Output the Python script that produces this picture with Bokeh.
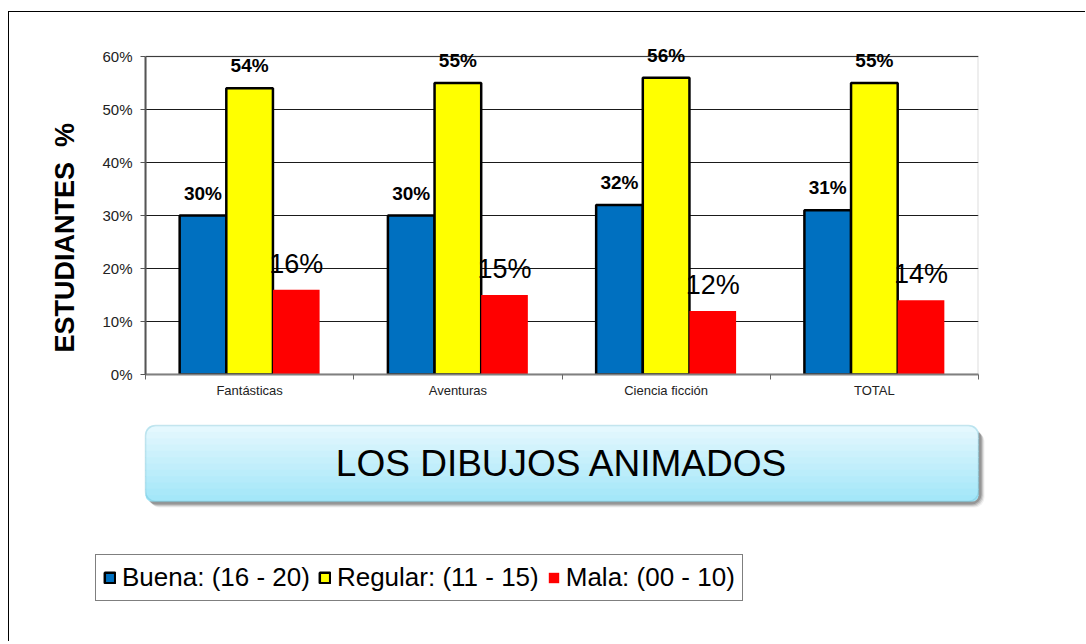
import numpy as np
from bokeh.plotting import figure
from bokeh.models import (ColumnDataSource, Range1d, FixedTicker, NumeralTickFormatter,
                          LabelSet, Label, Legend, LegendItem, BoxAnnotation, Title)
from bokeh.transform import dodge
from bokeh.embed import file_html
from bokeh.resources import INLINE
from bokeh.core.properties import value

# ---------------- data ----------------
categories = ["Fantásticas", "Aventuras", "Ciencia ficción", "TOTAL"]
buena = [0.30, 0.30, 0.32, 0.31]
regular = [0.54, 0.55, 0.56, 0.55]
mala = [0.16, 0.15, 0.12, 0.14]
series_names = ["Buena: (16 - 20)", "Regular: (11 - 15)", "Mala: (00 - 10)"]
y_ticks = [0.0, 0.1, 0.2, 0.3, 0.4, 0.5, 0.6]
title_text = "LOS DIBUJOS ANIMADOS"
y_label = "ESTUDIANTES \u00a0%"

# ---------------- styles ----------------
FONT = "Liberation Sans"
COLORS = ["#0070C0", "#FFFF00", "#FF0000"]
LINES = ["black", "black", None]
BW = 0.224
Y_MAX = y_ticks[-1]
Y_TOP = Y_MAX + 20 / 530.0   # headroom above the plot area for the value labels
W = 1077

centers = np.arange(len(categories)) + 0.5
pct = lambda vals: [f"{round(v * 100)}%" for v in vals]
src = ColumnDataSource(dict(
    x=centers, cat=categories,
    buena=buena, regular=regular, mala=mala,
    lb=pct(buena), lr=pct(regular), lm=pct(mala),
))

p = figure(width=W, height=412, x_range=Range1d(0, len(categories)),
           y_range=Range1d(0, Y_TOP), output_backend="svg", toolbar_location=None,
           min_border_left=136, min_border_right=W - 969, min_border_top=24,
           min_border_bottom=50, background_fill_color="white",
           border_fill_color="white",
           styles={"border-top": "1px solid black", "border-left": "1px solid black",
                   "margin-top": "11px", "margin-left": "8px"})

# axes
p.yaxis.ticker = FixedTicker(ticks=y_ticks)
p.yaxis.bounds = (0, Y_MAX)
p.yaxis.formatter = NumeralTickFormatter(format="0%")
p.yaxis.major_tick_out = 5
p.yaxis.major_tick_in = 0
p.yaxis.minor_tick_line_color = None
p.yaxis.major_label_standoff = 8
p.yaxis.major_label_text_font = FONT
p.yaxis.major_label_text_font_size = "15px"
p.yaxis.major_label_text_color = "#222222"
p.yaxis.axis_line_color = "#555555"
p.yaxis.axis_line_width = 2
p.yaxis.major_tick_line_color = "#555555"

p.xaxis.ticker = FixedTicker(ticks=list(centers), minor_ticks=list(range(len(categories) + 1)))
p.xaxis.major_label_overrides = {float(c): n for c, n in zip(centers, categories)}
p.xaxis.major_tick_line_color = None
p.xaxis.major_tick_out = 0
p.xaxis.major_tick_in = 0
p.xaxis.minor_tick_line_color = "#666666"
p.xaxis.minor_tick_out = 5
p.xaxis.minor_tick_in = 0
p.xaxis.major_label_standoff = 3
p.xaxis.major_label_text_font = FONT
p.xaxis.major_label_text_font_size = "13px"
p.xaxis.major_label_text_color = "#222222"
p.xaxis.axis_line_color = "#808080"
p.xaxis.axis_line_width = 2

p.xgrid.grid_line_color = None
p.ygrid.grid_line_color = "#1a1a1a"
p.ygrid.grid_line_width = 1
p.outline_line_color = None

# gray border of the plot area
p.add_layout(BoxAnnotation(left=0, right=len(categories), bottom=0, top=Y_MAX,
                           fill_alpha=0, line_color="#8c8c8c", line_width=2,
                           level="underlay"))

# bars
fields = ["buena", "regular", "mala"]
offsets = [-BW, 0.0, BW]
for f, off, col, lc in zip(fields, offsets, COLORS, LINES):
    p.vbar(x=dodge("x", off), top=f, width=BW, source=src,
           fill_color=col, line_color=lc, line_width=2.5)

# value labels
for f, lab, off in zip(fields[:2], ["lb", "lr"], offsets[:2]):
    p.add_layout(LabelSet(x=dodge("x", off), y=f, text=lab, source=src,
                          text_align="center", text_baseline="alphabetic",
                          y_offset=16, text_font=value(FONT),
                          text_font_style="bold", text_font_size="19px",
                          text_color="black"))
p.add_layout(LabelSet(x=dodge("x", offsets[2]), y="mala", text="lm", source=src,
                      text_align="center", text_baseline="alphabetic",
                      y_offset=17, text_font=value(FONT),
                      text_font_size="27px", text_color="black"))

# y axis title (side title, left of the axis)
p.add_layout(Title(text=y_label, align="left", offset=22, standoff=40,
                   text_font=FONT, text_font_style="bold", text_font_size="27px",
                   text_color="black"), "left")

# ---------------- lower panel: title box + legend ----------------
H2 = 218
q = figure(width=W, height=H2, x_range=Range1d(0, W), y_range=Range1d(0, H2),
           output_backend="svg", toolbar_location=None, min_border=0,
           min_border_left=0, min_border_right=0, min_border_top=0, min_border_bottom=0,
           x_axis_location=None, y_axis_location=None,
           background_fill_color="white", border_fill_color="white",
           styles={"border-left": "1px solid black", "margin-left": "8px"})
q.grid.visible = False
q.outline_line_color = None

BL, BR, BT, BB = 136, 969, 216, 140
RAD = 10
for d, a in [(6, 0.06), (5, 0.10), (4, 0.14), (3, 0.18)]:
    q.add_layout(BoxAnnotation(left=BL + d - 2, right=BR + d, top=BT - d, bottom=BB - d,
                               fill_color="#000000", fill_alpha=a, line_color=None,
                               border_radius=RAD))
top_c = np.array([0xE4, 0xF8, 0xFE])
bot_c = np.array([0xA4, 0xE7, 0xF9])
N = 12
hstep = (BT - BB) / N
for i in range(N):
    t = i / (N - 1)
    c = (top_c * (1 - t) + bot_c * t).astype(int)
    colr = "#%02x%02x%02x" % tuple(c)
    top = BT - i * hstep
    bot = BT - (i + 1) * hstep - (0.8 if i < N - 1 else 0)
    if i == 0:
        br = (RAD, RAD, 0, 0)
    elif i == N - 1:
        br = (0, 0, RAD, RAD)
    else:
        br = 0
    q.add_layout(BoxAnnotation(left=BL, right=BR, top=top, bottom=bot,
                               fill_color=colr, fill_alpha=1, line_color=None,
                               border_radius=br))
q.add_layout(BoxAnnotation(left=BL, right=BR, top=BT, bottom=BB,
                           fill_alpha=0, line_color="#5ab2cb", line_width=1.5,
                           border_radius=RAD))
q.add_layout(Label(x=(BL + BR) / 2, y=(BT + BB) / 2, text=title_text,
                   text_align="center", text_baseline="middle", text_font=FONT,
                   text_font_size="37px", text_color="black"))

# legend: proxy renderers carrying the series styles
items = []
for name, col, lc in zip(series_names, COLORS, LINES):
    r = q.vbar(x=np.array([np.nan]), top=np.array([np.nan]), width=1,
               fill_color=col, line_color=lc, line_width=2.5)
    items.append(LegendItem(label=name, renderers=[r]))
legend = Legend(items=items, orientation="horizontal", location=(86, 40),
                border_line_color="black", border_line_width=1,
                background_fill_color="white", background_fill_alpha=1,
                padding=7, margin=0, spacing=8, label_standoff=6,
                glyph_width=13, glyph_height=13,
                label_text_font=FONT, label_text_font_size="26px",
                label_text_color="black")
q.add_layout(legend)

open("out.html", "w").write(file_html([p, q], INLINE))
